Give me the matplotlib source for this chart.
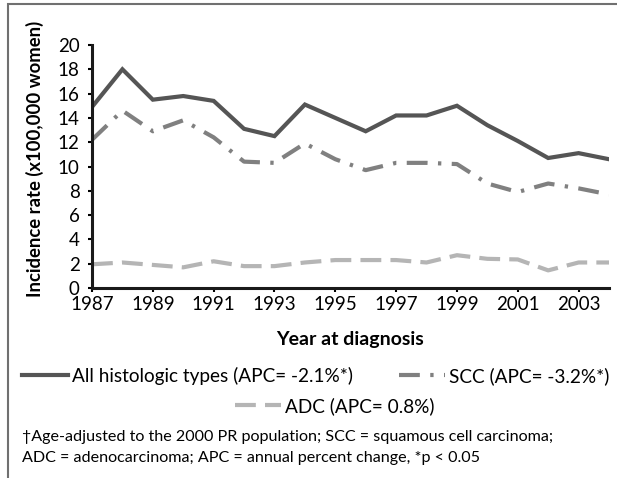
import matplotlib
matplotlib.use('Agg')
import matplotlib.pyplot as plt
from matplotlib.patches import Rectangle

plt.rcParams['font.family'] = ['Lato', 'DejaVu Sans']

years = list(range(1987, 2005))
all_types = [14.9, 18.0, 15.5, 15.8, 15.4, 13.1, 12.5, 15.1, 14.0, 12.9,
             14.2, 14.2, 15.0, 13.4, 12.1, 10.7, 11.1, 10.6]
scc = [12.2, 14.6, 12.9, 13.8, 12.4, 10.4, 10.3, 11.9, 10.6, 9.7,
       10.3, 10.3, 10.2, 8.6, 7.9, 8.6, 8.2, 7.7]
adc = [1.95, 2.1, 1.9, 1.7, 2.2, 1.8, 1.8, 2.1, 2.3, 2.3,
       2.3, 2.1, 2.7, 2.4, 2.35, 1.45, 2.1, 2.1]
xticks = list(range(1987, 2004, 2))
labels = ['All histologic types (APC= -2.1%*)', 'SCC (APC= -3.2%*)', 'ADC (APC= 0.8%)']

c_all, c_scc, c_adc = '#555555', '#808080', '#b5b5b5'

W, H = 617, 478
fig = plt.figure(figsize=(W / 100, H / 100), dpi=100)
ax = fig.add_axes([92 / W, 1 - 288 / H, (609 - 92) / W, (288 - 45) / H])

l1, = ax.plot(years, all_types, color=c_all, lw=3, solid_joinstyle='miter')
l2, = ax.plot(years, scc, color=c_scc, lw=3, dashes=(5, 2.5, 0.8, 2.5))
l3, = ax.plot(years, adc, color=c_adc, lw=3, dashes=(5, 2.2))

ax.set_xlim(1987, 2004)
ax.set_ylim(0, 20)
ax.set_yticks(range(0, 21, 2))
ax.set_xticks(xticks)
for s in ['top', 'right']:
    ax.spines[s].set_visible(False)
for s in ['left', 'bottom']:
    ax.spines[s].set_linewidth(2.2)
    ax.spines[s].set_color('#1a1a1a')
ax.tick_params(axis='y', direction='out', length=3, width=1.5, labelsize=13.5, pad=6)
ax.tick_params(axis='x', direction='out', length=3, width=1.5, labelsize=13.5, pad=3)
ax.set_xlabel('Year at diagnosis', fontsize=14, fontweight='bold', labelpad=13)
ax.set_ylabel('Incidence rate (x100,000 women)', fontsize=13.3, fontweight='bold')
ax.yaxis.set_label_coords(-0.093, 0.53)

# legend entries placed one by one
leg_kw = dict(loc='center left', frameon=False, fontsize=13.7, handlelength=2.4,
              handletextpad=0.25, borderpad=0, borderaxespad=0)
fig.legend([l1], labels[:1], bbox_to_anchor=(22 / W, 1 - 376 / H), **leg_kw)
fig.legend([l2], labels[1:2], bbox_to_anchor=(399 / W, 1 - 376 / H), **leg_kw)
fig.legend([l3], labels[2:], bbox_to_anchor=(235 / W, 1 - 406 / H), **leg_kw)

fig.text(22 / W, 1 - 437 / H, '\u2020Age-adjusted to the 2000 PR population; SCC = squamous cell carcinoma;',
         fontsize=11.6, va='center')
fig.text(22 / W, 1 - 458 / H, 'ADC = adenocarcinoma; APC = annual percent change, *p < 0.05',
         fontsize=11.6, va='center')

fig.patches.append(Rectangle((8 / W, -0.1), 1.2, 1 - 4 / H + 0.1, transform=fig.transFigure,
                             fill=False, edgecolor='#707070', lw=1.5))

fig.savefig('out.png', dpi=100)
